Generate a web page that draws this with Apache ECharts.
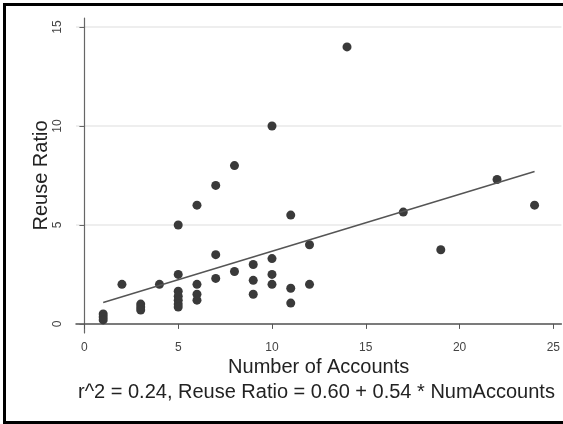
<!DOCTYPE html>
<html>
<head>
<meta charset="utf-8">
<script src="https://cdn.jsdelivr.net/npm/echarts@6/dist/echarts.min.js"></script>
<style>
  html, body { margin: 0; padding: 0; background: #fff; }
  #chart { width: 563px; height: 424px; }
</style>
</head>
<body>
<div id="chart"></div>
<script>
// number of accounts per respondent and their reuse ratio
var accounts = [1, 1, 1, 2, 3, 3, 3, 4,
  5, 5, 5, 5, 5, 5, 5,
  6, 6, 6, 6, 7, 7, 7, 8, 8,
  9, 9, 9, 10, 10, 10, 10, 11, 11, 11, 12, 12,
  14, 17, 19, 22, 24];
var ratios = [0.5, 0.35, 0.2, 2.0, 1.0, 0.85, 0.7, 2.0,
  5.0, 2.5, 1.65, 1.4, 1.2, 1.0, 0.85,
  6.0, 2.0, 1.5, 1.2, 7.0, 3.5, 2.3, 8.0, 2.65,
  3.0, 2.2, 1.5, 10.0, 3.3, 2.5, 2.0, 5.5, 1.8, 1.05, 4.0, 2.0,
  14.0, 5.65, 3.75, 7.3, 6.0];

// fitted line as drawn
var fitX = [1, 24];
var fitY = [1.08, 7.7];

var xTicks = [0, 5, 10, 15, 20, 25];
var yTicks = [0, 5, 10, 15];

var font = 'Liberation Sans, Arial, sans-serif';

var points = accounts.map(function (a, i) { return [a, ratios[i]]; });
var fit = fitX.map(function (x, i) { return [x, fitY[i]]; });

var myChart = echarts.init(document.getElementById('chart'));
var option = {
  animation: false,
  backgroundColor: '#fff',
  title: {
    text: 'r^2 = 0.24, Reuse Ratio = 0.60 + 0.54 * NumAccounts',
    left: 78,
    top: 382,
    padding: 0,
    textStyle: { fontFamily: font, fontSize: 20, fontWeight: 'normal', color: '#222' }
  },
  grid: { left: 76, right: 0, top: 18, bottom: 91 },
  xAxis: {
    type: 'value',
    min: -0.45,
    max: 25.43,
    name: 'Number of Accounts',
    nameLocation: 'middle',
    nameGap: 24,
    nameMoveOverlap: false,
    nameTextStyle: { fontFamily: font, fontSize: 20, color: '#222' },
    axisLine: { show: true, lineStyle: { color: '#555', width: 1.5 } },
    axisTick: { show: true, length: 5, customValues: xTicks, lineStyle: { color: '#555' } },
    axisLabel: { customValues: xTicks, margin: 9, fontFamily: font, fontSize: 12, color: '#444' },
    splitLine: { show: false }
  },
  yAxis: {
    type: 'value',
    min: -0.46,
    max: 15.46,
    name: 'Reuse Ratio',
    nameLocation: 'middle',
    nameGap: 25,
    nameMoveOverlap: false,
    nameTextStyle: { fontFamily: font, fontSize: 20, color: '#222' },
    axisLine: { show: true, lineStyle: { color: '#666', width: 1.2 } },
    axisTick: { show: true, length: 5, customValues: yTicks, lineStyle: { color: '#666' } },
    axisLabel: { customValues: yTicks, rotate: 90, margin: 12, fontFamily: font, fontSize: 12, color: '#444' },
    splitLine: { show: true, lineStyle: { color: '#e8e8e8', width: 1.5 } }
  },
  series: [
    {
      type: 'scatter',
      data: points,
      symbolSize: 9,
      itemStyle: { color: '#3a3a3a', opacity: 1 }
    },
    {
      type: 'line',
      data: fit,
      symbol: 'none',
      lineStyle: { color: '#555', width: 1.5 }
    }
  ],
  graphic: [
    { type: 'rect', shape: { x: 3, y: 3, width: 560, height: 3 }, style: { fill: '#000' } },
    { type: 'rect', shape: { x: 3, y: 3, width: 3, height: 421 }, style: { fill: '#000' } },
    { type: 'rect', shape: { x: 3, y: 421, width: 560, height: 3 }, style: { fill: '#000' } }
  ]
};
myChart.setOption(option, true);
</script>
</body>
</html>
